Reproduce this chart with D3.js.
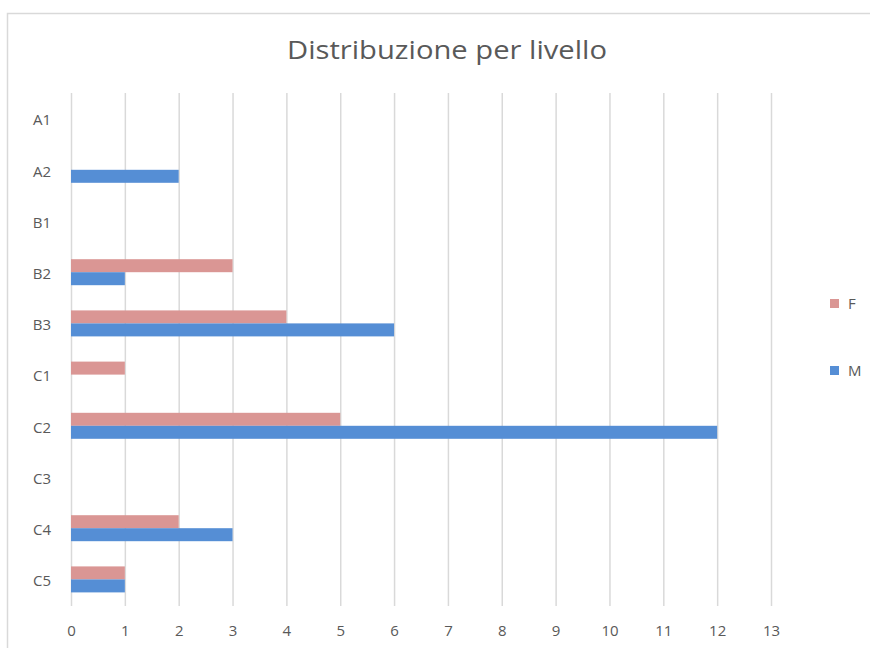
<!DOCTYPE html>
<html><head><meta charset="utf-8">
<script src="https://cdn.jsdelivr.net/npm/d3@7"></script>
<style>body{margin:0;background:#fff;} svg{display:block;font-family:"Open Sans","Noto Sans",sans-serif;}</style>
</head><body>
<svg id="c" width="870" height="648"></svg>
<script>
const categories = ["A1","A2","B1","B2","B3","C1","C2","C3","C4","C5"];
const seriesNames = ["F","M"];
const valuesF = [0,0,0,3,4,1,5,0,2,1];
const valuesM = [0,2,0,1,6,0,12,0,3,1];
const xTicks = [0,1,2,3,4,5,6,7,8,9,10,11,12,13];
const colors = {F:"#da9694", M:"#558ed5"};
const title = "Distribuzione per livello";

const svg = d3.select("#c");
// frame
svg.append("path").attr("d","M7.5,648 V13.5 H870").attr("fill","none").attr("stroke","#d9d9d9").attr("stroke-width",1.5);

const x = d3.scaleLinear().domain([0,13]).range([71,771]);
const y = d3.scaleBand().domain(categories).range([93,605]);
const inner = d3.scaleBand().domain(seriesNames).range([0,y.bandwidth()]).paddingInner(0).paddingOuter(0.97);

// gridlines
svg.append("g").selectAll("line").data(xTicks).join("line")
  .attr("x1",d=>x(d)+0.5).attr("x2",d=>x(d)+0.5)
  .attr("y1",93).attr("y2",606)
  .attr("stroke","#d9d9d9").attr("stroke-width",1.5);

// title
svg.append("text").attr("x",447).attr("y",59).attr("text-anchor","middle")
  .attr("font-size",25).attr("fill","#595959")
  .attr("textLength",320).attr("lengthAdjust","spacingAndGlyphs").text(title);

// bars
const data = [];
categories.forEach((c,i)=>{
  data.push({c, s:"F", v:valuesF[i]});
  data.push({c, s:"M", v:valuesM[i]});
});
svg.append("g").selectAll("rect").data(data.filter(d=>d.v>0)).join("rect")
  .attr("x",x(0)).attr("y",d=>y(d.c)+inner(d.s))
  .attr("width",d=>x(d.v)-x(0)).attr("height",inner.bandwidth())
  .attr("fill",d=>colors[d.s]);

// x axis labels
const xa = svg.append("g").attr("transform","translate(0,606)")
  .call(d3.axisBottom(x).tickValues(xTicks).tickSize(0).tickPadding(19).tickFormat(d3.format("d")));
xa.select(".domain").remove();
xa.selectAll("text").attr("font-size",15).attr("fill","#595959").attr("font-family","'Open Sans','Noto Sans',sans-serif");

// y axis labels
const ya = svg.append("g").attr("transform","translate(71,0)")
  .call(d3.axisLeft(y).tickSize(0).tickPadding(20));
ya.select(".domain").remove();
ya.selectAll("text").attr("font-size",15).attr("dy","0.45em").attr("fill","#595959").attr("font-family","'Open Sans','Noto Sans',sans-serif");

// legend
const leg = svg.append("g");
const legY = {F:303, M:370};
seriesNames.forEach(s=>{
  leg.append("rect").attr("x",830).attr("y",legY[s]-4).attr("width",9).attr("height",9).attr("fill",colors[s]);
  leg.append("text").attr("x",848).attr("y",legY[s]+6).attr("font-size",15).attr("fill","#595959").text(s);
});
</script>
</body></html>
